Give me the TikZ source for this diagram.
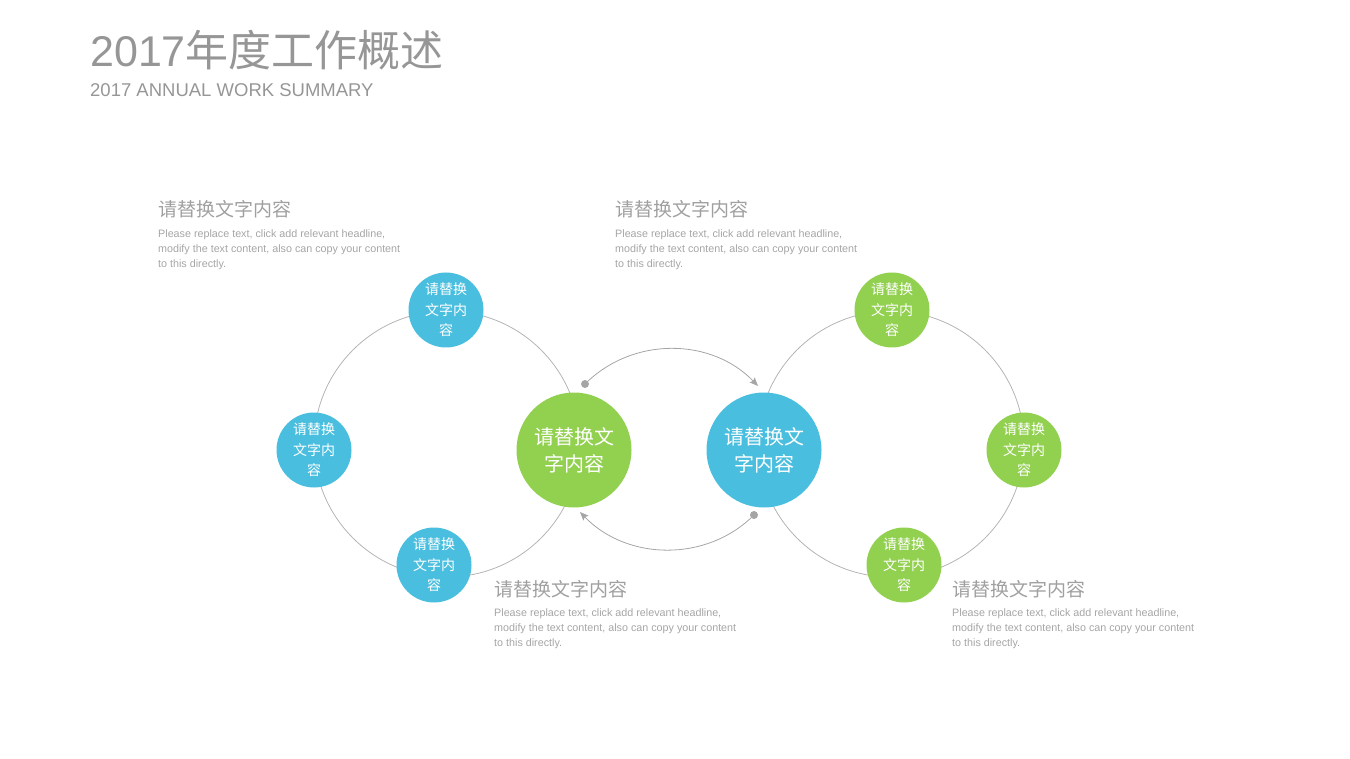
\documentclass[tikz,border=0pt]{standalone}
\usepackage{fontspec}
\setmainfont{Liberation Sans}
\newfontfamily\cjk{Noto Sans CJK SC}
\usetikzlibrary{arrows.meta}
\definecolor{cblue}{RGB}{74,190,222}
\definecolor{cgreen}{RGB}{146,208,80}
\definecolor{titlegray}{RGB}{150,150,150}
\definecolor{headgray}{RGB}{160,160,160}
\definecolor{bodygray}{RGB}{165,165,165}
\definecolor{linegray}{RGB}{180,180,180}
\definecolor{arrgray}{RGB}{165,165,165}
\tikzset{
  ringline/.style={draw=linegray, line width=0.8pt, circle, inner sep=0pt, minimum size=266pt},
  smallc/.style={circle, inner sep=0pt, minimum size=75pt, text=white, align=center,
    font=\cjk\fontsize{14}{20.5}\selectfont},
  bigc/.style={circle, inner sep=0pt, minimum size=115pt, text=white, align=center,
    font=\cjk\fontsize{20}{27}\selectfont},
  headtxt/.style={anchor=base west, inner sep=0pt, text=headgray, font=\cjk\fontsize{19}{22}\selectfont},
  bodytxt/.style={anchor=north west, inner sep=0pt, text=bodygray, align=left,
    font=\fontsize{10.75}{15}\selectfont},
  arr/.style={draw=arrgray, line width=0.8pt, -{Stealth[length=8.5pt,width=7pt,inset=1.5pt]}},
  dotc/.style={fill=arrgray}
}
\begin{document}
\begin{tikzpicture}[x=1pt,y=-1pt]
\useasboundingbox (0,0) rectangle (1350,759);
% title
\node[anchor=base west, inner sep=0pt, text=titlegray, font=\fontsize{43}{50}\selectfont] (title) at (90,67) {2017{\cjk 年度工作概述}};
\node[anchor=base west, inner sep=0pt, text=titlegray, font=\fontsize{18.5}{22}\selectfont] (subtitle) at (90,97) {2017 ANNUAL WORK SUMMARY};
% rings
\node[ringline] (ringL) at (447,444) {};
\node[ringline] (ringR) at (891,444) {};
% circles
\node[smallc, fill=cblue] (bL1) at (446,310) {请替换\\文字内\\容};
\node[smallc, fill=cblue] (bL2) at (314,450) {请替换\\文字内\\容};
\node[smallc, fill=cblue] (bL3) at (434,565) {请替换\\文字内\\容};
\node[bigc, fill=cgreen] (gC) at (574,450) {请替换文\\字内容};
\node[bigc, fill=cblue] (bC) at (764,450) {请替换文\\字内容};
\node[smallc, fill=cgreen] (gR1) at (892,310) {请替换\\文字内\\容};
\node[smallc, fill=cgreen] (gR2) at (1024,450) {请替换\\文字内\\容};
\node[smallc, fill=cgreen] (gR3) at (904,565) {请替换\\文字内\\容};
% arrows
\coordinate (d1) at (585,384);
\coordinate (t1) at (758,386);
\coordinate (d2) at (754,515);
\coordinate (t2) at (580,512);
\fill[dotc] (d1) circle[radius=4];
\fill[dotc] (d2) circle[radius=4];
\draw[arr] (d1) .. controls +(47.7,-47.7) and +(-46.8,-48.5) .. (t1);
\draw[arr] (d2) .. controls +(-47.7,47.7) and +(46.8,48.5) .. (t2);
% text blocks
\node[headtxt] (h1) at (158,217) {请替换文字内容};
\node[bodytxt] (p1) at (158,230) {Please replace text, click add relevant headline,\\modify the text content, also can copy your content\\to this directly.};
\node[headtxt] (h2) at (615,217) {请替换文字内容};
\node[bodytxt] (p2) at (615,230) {Please replace text, click add relevant headline,\\modify the text content, also can copy your content\\to this directly.};
\node[headtxt] (h3) at (494,596) {请替换文字内容};
\node[bodytxt] (p3) at (494,609) {Please replace text, click add relevant headline,\\modify the text content, also can copy your content\\to this directly.};
\node[headtxt] (h4) at (952,596) {请替换文字内容};
\node[bodytxt] (p4) at (952,609) {Please replace text, click add relevant headline,\\modify the text content, also can copy your content\\to this directly.};
\end{tikzpicture}
\end{document}
